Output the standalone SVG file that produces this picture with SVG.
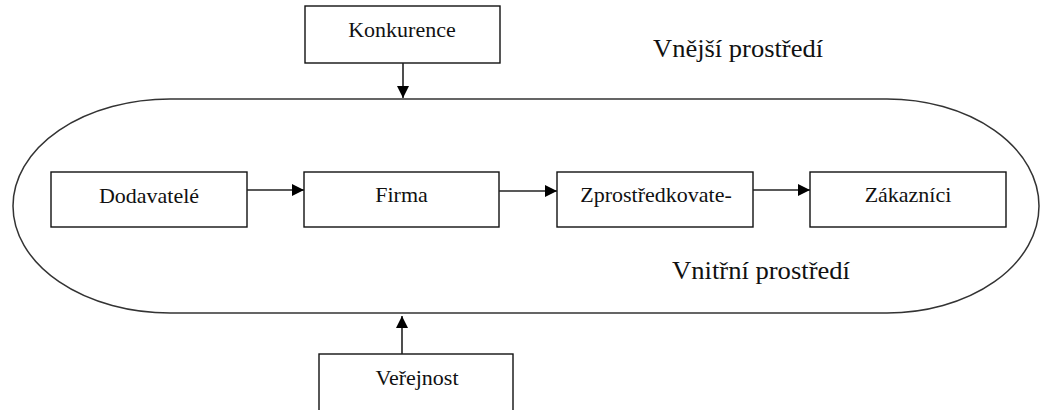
<svg xmlns="http://www.w3.org/2000/svg" width="1040" height="410" viewBox="0 0 1040 410">
  <style>
    .box { fill: #fff; stroke: #111; stroke-width: 1.4; }
    .conn { stroke: #222; stroke-width: 1.6; fill: none; }
  </style>
  <defs>
    <marker id="arrow" viewBox="0 0 12 12" refX="12" refY="6" markerWidth="12" markerHeight="12" markerUnits="userSpaceOnUse" orient="auto">
      <path d="M0,0 L12,6 L0,12 Z" fill="#000"/>
    </marker>
  </defs>
  <rect width="1040" height="410" fill="#fff"/>

  <!-- inner environment boundary -->
  <g id="boundary">
    <path d="M170,99 H887 A152,107 0 0 1 887,313 H170 A157,107 0 0 1 170,99 Z" fill="none" stroke="#333" stroke-width="1.5"/>
  </g>

  <g font-family="Liberation Serif" fill="#111">
    <g id="label-outer" font-size="25">
      <text x="653" y="57" textLength="170" lengthAdjust="spacingAndGlyphs">Vnější prostředí</text>
    </g>
    <g id="label-inner" font-size="25">
      <text x="672" y="279" textLength="178" lengthAdjust="spacingAndGlyphs">Vnitřní prostředí</text>
    </g>

    <g font-size="22" text-anchor="middle">
      <g id="konkurence">
        <rect class="box" x="305" y="6" width="195" height="57"/>
        <text x="402" y="37">Konkurence</text>
      </g>
      <g id="dodavatele">
        <rect class="box" x="51" y="172" width="196" height="55"/>
        <text x="149" y="203">Dodavatelé</text>
      </g>
      <g id="firma">
        <rect class="box" x="304" y="172" width="195" height="55"/>
        <text x="401.5" y="202">Firma</text>
      </g>
      <g id="zprostredkovatele">
        <rect class="box" x="557" y="172" width="196" height="55"/>
        <text x="656" y="202">Zprostředkovate-</text>
      </g>
      <g id="zakaznici">
        <rect class="box" x="810" y="172" width="196" height="55"/>
        <text x="908" y="202">Zákazníci</text>
      </g>
      <g id="verejnost">
        <rect class="box" x="319" y="354" width="194" height="70"/>
        <text x="417" y="385">Veřejnost</text>
      </g>
    </g>
  </g>

  <g id="connectors">
    <line class="conn" x1="403" y1="63" x2="403" y2="98" marker-end="url(#arrow)"/>
    <line class="conn" x1="402" y1="354" x2="402" y2="316" marker-end="url(#arrow)"/>
    <line class="conn" x1="247" y1="190" x2="304" y2="190" marker-end="url(#arrow)"/>
    <line class="conn" x1="499" y1="191" x2="557" y2="191" marker-end="url(#arrow)"/>
    <line class="conn" x1="753" y1="190" x2="810" y2="190" marker-end="url(#arrow)"/>
  </g>
</svg>
